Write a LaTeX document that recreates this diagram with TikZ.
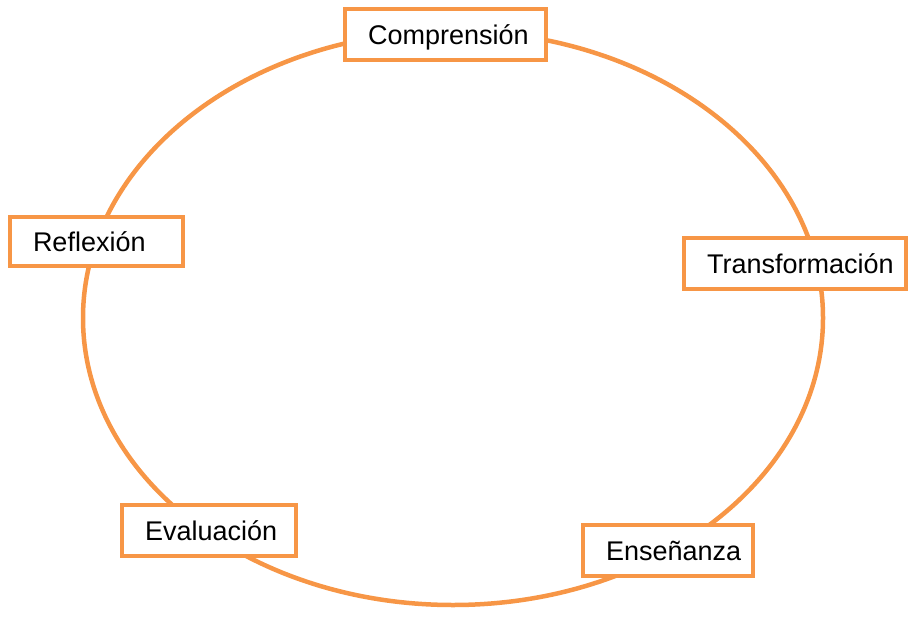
\documentclass[tikz,border=0pt]{standalone}
\usepackage{fontspec}
\setmainfont{Liberation Sans}
\definecolor{naranja}{HTML}{F79646}

\begin{document}
\begin{tikzpicture}[x=1pt, y=-1pt,
    etapa/.style={draw=naranja, line width=4.5pt, fill=white, inner xsep=23pt, inner ysep=0pt,
      minimum height=51pt, align=left, text height=19pt, text depth=0pt,
      font=\fontsize{27}{30}\selectfont}]
    \useasboundingbox (0,0) rectangle (920,621);
    \draw[naranja, line width=4.5pt] (453,318) ellipse [x radius=370, y radius=287];
    \node[etapa, text width=155pt] (comp) at (445.5,34.5) {Comprensión};
    \node[etapa, text width=127pt, minimum height=49pt] (refl) at (96.5,241.5) {Reflexión};
    \node[etapa, text width=176pt] (trans) at (795,263.5) {Transformación};
    \node[etapa, text width=128pt] (eval) at (209,530.5) {Evaluación};
    \node[etapa, text width=124pt] (ense) at (668,550.5) {Enseñanza};
\end{tikzpicture}
\end{document}
